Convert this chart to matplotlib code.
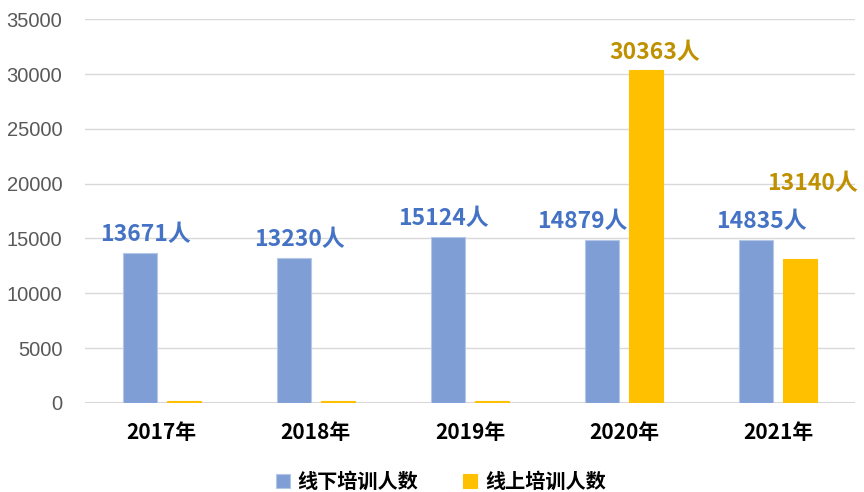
import matplotlib
matplotlib.use('Agg')
import matplotlib.pyplot as plt
import numpy as np

plt.rcParams['font.family'] = ['Noto Sans CJK SC', 'DejaVu Sans']

years = ['2017年', '2018年', '2019年', '2020年', '2021年']
offline = [13671, 13230, 15124, 14879, 14835]
online = [200, 200, 200, 30363, 13140]
online_labels = ['', '', '', '30363人', '13140人']

blue = '#7F9ED6'
yellow = '#FFC000'
blue_text = '#4472C4'
yellow_text = '#BF9000'

# label nudges (points), like hand-dragged labels in the original
blue_dx = [4, 4, -3, -14, 4]
yellow_dx = [0, 0, 0, 6, 9]
yellow_dy = [0, 0, 0, 4, 46]

fig = plt.figure(figsize=(8.64, 4.92), dpi=100)
ax = fig.add_axes([0.098, 0.181, 0.892, 0.78])

x = np.arange(len(years))
w = 0.22
ax.bar(x - 0.143, offline, w, color=blue, edgecolor='#B4C7E7', linewidth=0.8,
       label='线下培训人数', zorder=3)
ax.bar(x + 0.143, online, w, color=yellow, edgecolor='#FFC000', linewidth=0.8,
       label='线上培训人数', zorder=3)

# data labels
for i, v in enumerate(offline):
    ax.annotate(f'{v}人', (x[i] - 0.143, v), xytext=(blue_dx[i], 5), textcoords='offset points',
                ha='center', va='bottom', fontsize=16.5, fontweight='bold', color=blue_text)
for i, v in enumerate(online):
    if not online_labels[i]:
        continue
    ax.annotate(online_labels[i], (x[i] + 0.143, v), xytext=(yellow_dx[i], yellow_dy[i]),
                textcoords='offset points', ha='center', va='bottom', fontsize=16.5,
                fontweight='bold', color=yellow_text)

ax.set_xlim(-0.5, len(years) - 0.5)
ax.set_ylim(0, 35000)
ax.set_yticks(range(0, 35001, 5000))
ax.set_xticks(x)
ax.set_xticklabels(years, fontsize=15, fontweight='bold', color='black')
for lab in ax.get_yticklabels():
    lab.set_family('Liberation Sans')
    lab.set_fontsize(14.5)
    lab.set_color('#595959')
ax.tick_params(axis='both', length=0)
ax.tick_params(axis='y', pad=16)
ax.tick_params(axis='x', pad=14)

ax.grid(axis='y', color='#D9D9D9', linewidth=1, zorder=0)
for s in ax.spines.values():
    s.set_visible(False)
ax.axhline(0, color='#D0D0D0', linewidth=1.2, zorder=2)

fig.legend(*ax.get_legend_handles_labels(), loc='center', bbox_to_anchor=(0.51, 0.022), ncol=2,
           frameon=False, prop={'size': 14.5, 'weight': 'bold'}, handlelength=0.7, handleheight=0.7,
           columnspacing=2.2, handletextpad=0.4)

fig.savefig('out.png', dpi=100, facecolor='white')
